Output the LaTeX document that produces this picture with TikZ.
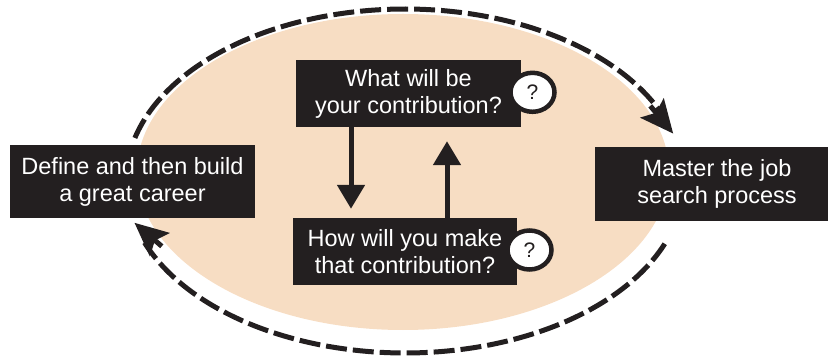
\documentclass[tikz,border=0pt]{standalone}
\usepackage{fontspec}
\setmainfont{Liberation Sans}
\usetikzlibrary{arrows.meta,shapes.geometric}
\definecolor{peach}{RGB}{247,221,195}
\definecolor{ink}{RGB}{35,31,32}
\begin{document}
\begin{tikzpicture}[x=1pt,y=-1pt,
  box/.style={fill=ink, text=white, inner sep=0pt, align=center, font=\fontsize{23.5}{27}\selectfont},
  qmark/.style={ellipse, draw=ink, line width=4.5pt, fill=white, minimum width=44pt, minimum height=39pt, inner sep=0pt, font=\fontsize{21}{21}\selectfont, text=ink},
  ring/.style={draw=ink, line width=5pt, dash pattern=on 21pt off 6pt},
  ringtip/.style={draw=ink, line width=5pt, -{Stealth[length=33pt,width=30pt,inset=6pt]}},
  vlink/.style={draw=ink, line width=5pt, -{Triangle[length=24pt,width=27pt]}}]
\useasboundingbox (0,0) rectangle (833,358);
\fill[peach] (403,172) ellipse [x radius=266, y radius=158];
% outer dashed cycle
\coordinate (ra) at (650.3,105.9);
\coordinate (rb) at (673.2,133.6);
\coordinate (la) at (161.8,246.3);
\coordinate (lb) at (134.5,222.8);
\draw[ring] plot[domain=194.5:337, samples=150] ({405+279*cos(\x)},{181+172*sin(\x)});
\draw[ringtip] (ra) -- (rb);
\draw[ring] plot[domain=21.4:159, samples=150] ({405+279*cos(\x)},{181+172*sin(\x)});
\draw[ringtip] (la) -- (lb);
\node[box, minimum width=245pt, minimum height=73pt] (L) at (132.5,181.5) {Define and then build\\a great career};
\node[box, minimum width=233pt, minimum height=74pt] (R) at (711.5,184) {\hspace*{11pt}Master the job\\\hspace*{11pt}search process};
\node[box, minimum width=225pt, minimum height=67pt] (T) at (408.5,93.5) {What will be\\your contribution?};
\node[box, minimum width=224pt, minimum height=67pt] (B) at (405,251.5) {How will you make\\that contribution?};
\node[qmark] (Tq) at (532.5,92.3) {?};
\node[qmark] (Bq) at (529.5,250) {?};
\coordinate (xd) at (351,0);
\coordinate (xu) at (447,0);
\draw[vlink, shorten >=9pt] (T.south -| xd) -- (B.north -| xd);
\draw[vlink, shorten >=14pt] (B.north -| xu) -- (T.south -| xu);
\end{tikzpicture}
\end{document}
